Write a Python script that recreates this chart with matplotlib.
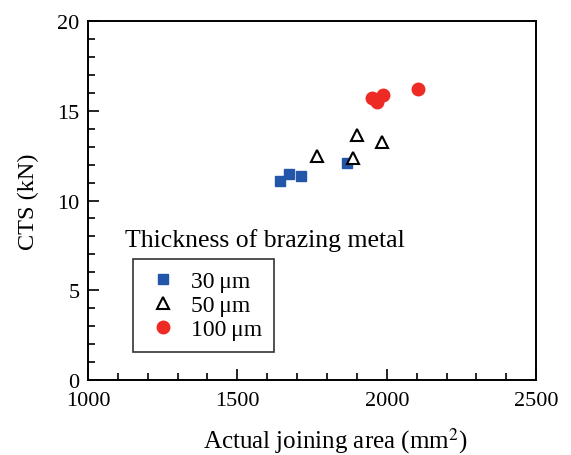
import numpy as np
import matplotlib
matplotlib.use('Agg')
import matplotlib.pyplot as plt
from matplotlib.ticker import MultipleLocator

# data
area_30 = [1643, 1674, 1712, 1868]
cts_30 = [11.10, 11.48, 11.35, 12.09]
area_50 = [1765, 1886, 1900, 1984]
cts_50 = [12.46, 12.37, 13.67, 13.24]
area_100 = [1950, 1966, 1986, 2106]
cts_100 = [15.69, 15.47, 15.88, 16.21]
labels = ['30\u2009\u03bcm', '50\u2009\u03bcm', '100\u2009\u03bcm']

plt.rcParams['font.family'] = ['Liberation Serif', 'DejaVu Serif']
plt.rcParams['mathtext.fontset'] = 'stix'

fig = plt.figure(figsize=(5.71, 4.56), dpi=100)
ax = fig.add_axes([0.154, 0.1645, 0.785, 0.787])

ax.plot(area_30, cts_30, 's', color='#2356a8', markersize=7.5, linestyle='none', label=labels[0])
ax.plot(area_50, cts_50, '^', markerfacecolor='white', markeredgecolor='black',
        markeredgewidth=1.5, markersize=8, linestyle='none', label=labels[1])
ax.plot(area_100, cts_100, 'o', color='#ee2a24', markersize=9, linestyle='none', label=labels[2])

ax.set_xlim(1000, 2500)
ax.set_ylim(0, 20)
ax.xaxis.set_major_locator(MultipleLocator(500))
ax.xaxis.set_minor_locator(MultipleLocator(100))
ax.yaxis.set_major_locator(MultipleLocator(5))
ax.yaxis.set_minor_locator(MultipleLocator(1))
ax.tick_params(which='both', direction='in', labelsize=16, width=1.2)
ax.tick_params(axis='x', pad=8)
ax.tick_params(axis='y', pad=6)
ax.tick_params(which='major', length=8)
ax.tick_params(which='minor', length=5)
for s in ax.spines.values():
    s.set_linewidth(1.4)

ax.set_xlabel('Actual joining area (mm$^2$)', fontsize=18, labelpad=8)
ax.xaxis.set_label_coords(0.551, -0.125)
ax.set_ylabel('CTS (kN)', fontsize=17.5)
ax.yaxis.set_label_coords(-0.109, 0.5)

ax.text(1124, 7.85, 'Thickness of brazing metal', fontsize=18.5, va='center')
leg = ax.legend(loc='lower left', bbox_to_anchor=(0.1, 0.078), fontsize=17,
                frameon=True, fancybox=False, edgecolor='black', handlelength=1.56,
                handletextpad=0.4, borderpad=0.5, borderaxespad=0, labelspacing=0.1)
leg.get_frame().set_linewidth(1.2)

fig.savefig('out.png', dpi=100)
